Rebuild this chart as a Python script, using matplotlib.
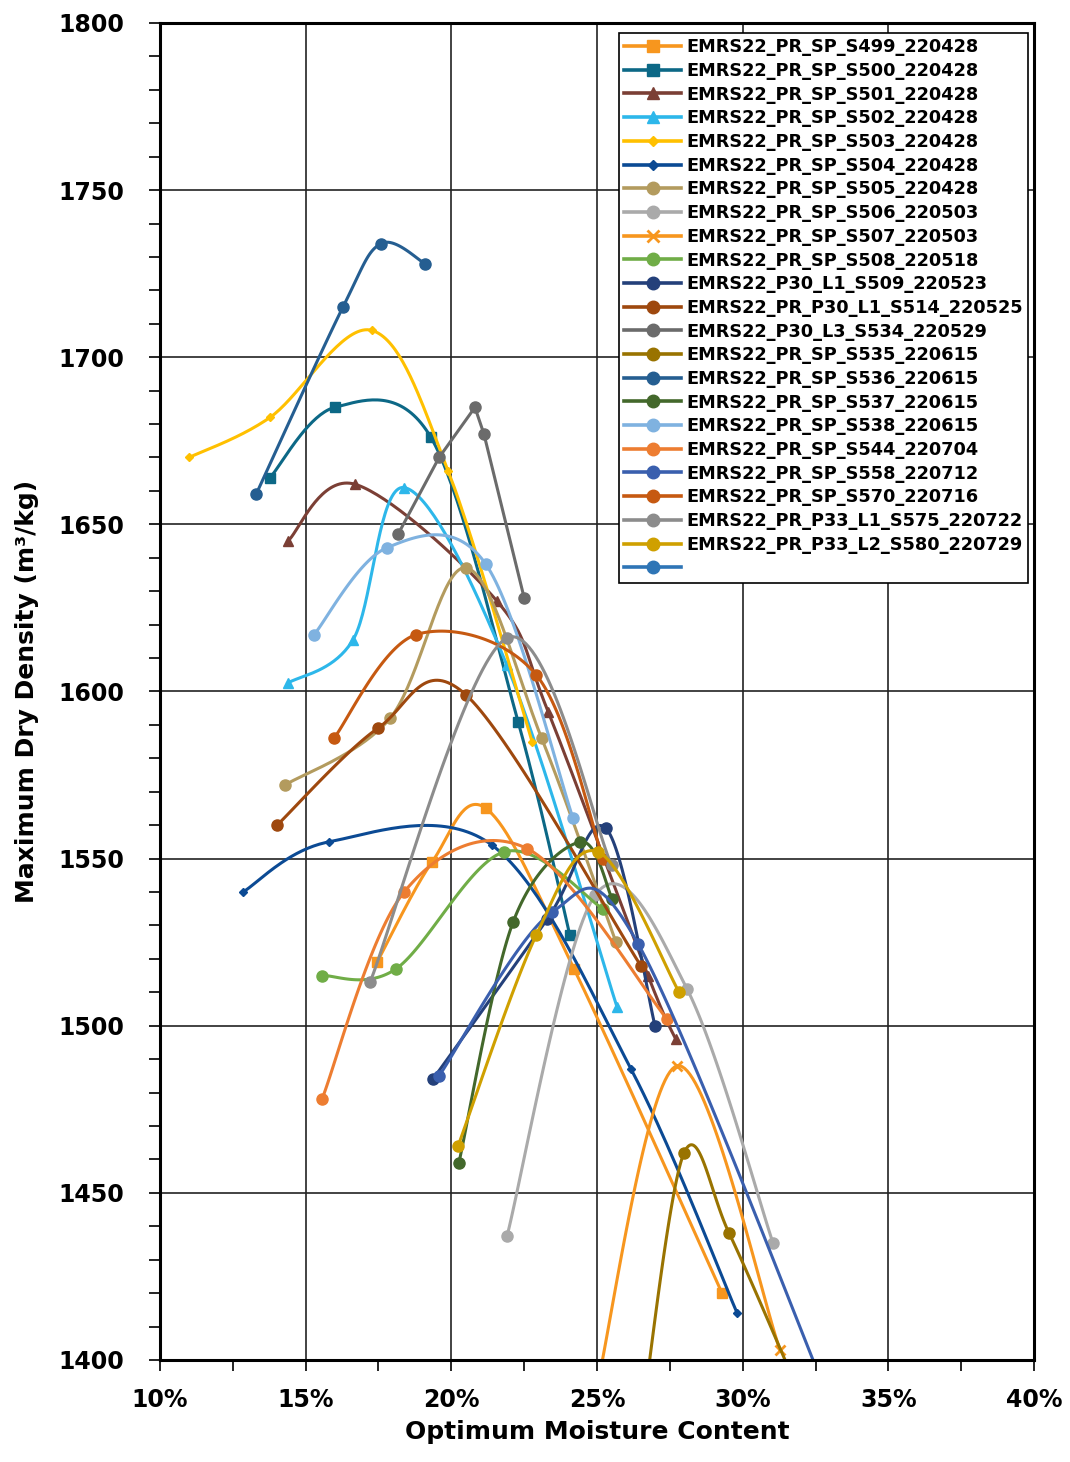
import numpy as np
import matplotlib
matplotlib.use("Agg")
import matplotlib.pyplot as plt
from matplotlib.lines import Line2D
from matplotlib.ticker import MultipleLocator, FuncFormatter

plt.rcParams['font.family'] = ['DejaVu Sans']
plt.rcParams['font.weight'] = 'bold'

# series data: moisture content (%) and max dry density
names = ['EMRS22_PR_SP_S499_220428', 'EMRS22_PR_SP_S500_220428', 'EMRS22_PR_SP_S501_220428',
         'EMRS22_PR_SP_S502_220428', 'EMRS22_PR_SP_S503_220428', 'EMRS22_PR_SP_S504_220428',
         'EMRS22_PR_SP_S505_220428', 'EMRS22_PR_SP_S506_220503', 'EMRS22_PR_SP_S507_220503',
         'EMRS22_PR_SP_S508_220518', 'EMRS22_P30_L1_S509_220523', 'EMRS22_PR_P30_L1_S514_220525',
         'EMRS22_P30_L3_S534_220529', 'EMRS22_PR_SP_S535_220615', 'EMRS22_PR_SP_S536_220615',
         'EMRS22_PR_SP_S537_220615', 'EMRS22_PR_SP_S538_220615', 'EMRS22_PR_SP_S544_220704',
         'EMRS22_PR_SP_S558_220712', 'EMRS22_PR_SP_S570_220716', 'EMRS22_PR_P33_L1_S575_220722',
         'EMRS22_PR_P33_L2_S580_220729', ' ']

s499_x = [17.45, 19.34, 21.19, 24.21, 29.29]
s499_y = [1519, 1549, 1565, 1517, 1420]
s500_x = [13.78, 16.0, 19.3, 22.29, 24.07]
s500_y = [1664, 1685, 1676, 1591, 1527]
s501_x = [14.39, 16.69, 21.57, 23.32, 26.75, 27.7]
s501_y = [1645, 1662, 1627, 1594, 1515, 1496]
s502_x = [14.39, 16.63, 18.38, 21.9, 25.69]
s502_y = [1602.5, 1615.5, 1661, 1608, 1505.5]
s503_x = [11.0, 13.78, 17.28, 19.89, 22.77]
s503_y = [1670, 1682, 1708, 1666, 1585]
s504_x = [12.85, 15.8, 21.4, 26.17, 29.81]
s504_y = [1540, 1555, 1554, 1487, 1414]
s505_x = [14.29, 17.9, 20.5, 23.1, 25.65]
s505_y = [1572, 1592, 1637, 1586, 1525]
s506_x = [21.91, 24.93, 28.09, 31.04]
s506_y = [1437, 1539, 1511, 1435]
s507_x = [24.95, 27.75, 31.28]
s507_y = [1390, 1488, 1403]
s508_x = [15.56, 18.1, 21.81, 25.2]
s508_y = [1515, 1517, 1552, 1535]
s509_x = [19.37, 23.3, 25.31, 26.99]
s509_y = [1484, 1532, 1559, 1500]
s514_x = [14.02, 17.48, 20.5, 26.5]
s514_y = [1560, 1589, 1599, 1518]
s534_x = [18.17, 19.58, 20.81, 21.12, 22.5]
s534_y = [1647, 1670, 1685, 1677, 1628]
s535_x = [26.5, 27.99, 29.53, 31.8]
s535_y = [1380, 1462, 1438, 1393]
s536_x = [13.3, 16.28, 17.59, 19.1]
s536_y = [1659, 1715, 1734, 1728]
s537_x = [20.26, 22.12, 24.42, 25.52]
s537_y = [1459, 1531, 1555, 1538]
s538_x = [15.29, 17.79, 21.19, 24.18]
s538_y = [1617, 1643, 1638, 1562]
s544_x = [15.56, 18.38, 22.6, 27.4]
s544_y = [1478, 1540, 1553, 1502]
s558_x = [19.58, 23.46, 26.41, 33.2]
s558_y = [1485, 1534, 1524.5, 1383]
s570_x = [15.97, 18.79, 22.91, 25.21]
s570_y = [1586, 1617, 1605, 1550]
s575_x = [17.21, 21.91, 25.5]
s575_y = [1513, 1616, 1548]
s580_x = [20.23, 22.91, 25.04, 27.82]
s580_y = [1464, 1527, 1552, 1510]
blank_x = []
blank_y = []

xs = [s499_x, s500_x, s501_x, s502_x, s503_x, s504_x, s505_x, s506_x, s507_x, s508_x, s509_x,
      s514_x, s534_x, s535_x, s536_x, s537_x, s538_x, s544_x, s558_x, s570_x, s575_x, s580_x, blank_x]
ys = [s499_y, s500_y, s501_y, s502_y, s503_y, s504_y, s505_y, s506_y, s507_y, s508_y, s509_y,
      s514_y, s534_y, s535_y, s536_y, s537_y, s538_y, s544_y, s558_y, s570_y, s575_y, s580_y, blank_y]

colors = ['#F7961E', '#0C6886', '#7B3F35', '#2DB7EA', '#FFC000', '#0B4A94', '#B39B5E', '#AAAAAA',
          '#F7961E', '#70AD47', '#24407A', '#9E480E', '#6B6B6B', '#997300', '#255E91', '#43682B',
          '#7FB2E0', '#ED7D31', '#3A5FAE', '#C65911', '#8C8C8C', '#CFA000', '#2E75B6']
markers = ['s', 's', '^', '^', 'D', 'D', 'o', 'o', 'x', 'o', 'o', 'o', 'o', 'o', 'o', 'o',
           'o', 'o', 'o', 'o', 'o', 'o', 'o']
msizes = [7.5, 7.5, 7, 7, 4, 4, 8, 8, 7, 8, 8, 8, 8, 8, 8, 8, 8, 8, 8, 8, 8, 8, 8]
smooth_flag = [True] * 23
smooth_flag[12] = False  # S534 is drawn with straight segments


def smooth(x, y, n=40):
    # Excel-style smoothed line: cubic bezier with 1/6 neighbour tangents
    p = np.column_stack([x, y]).astype(float)
    if len(p) < 3:
        return p[:, 0], p[:, 1]
    P = np.vstack([p[0], p, p[-1]])
    t = np.linspace(0, 1, n)[:, None]
    segs = []
    for i in range(1, len(P) - 2):
        p0, p1, p2, p3 = P[i - 1], P[i], P[i + 1], P[i + 2]
        c1 = p1 + (p2 - p0) / 6
        c2 = p2 - (p3 - p1) / 6
        segs.append((1 - t) ** 3 * p1 + 3 * (1 - t) ** 2 * t * c1 + 3 * (1 - t) * t ** 2 * c2 + t ** 3 * p2)
    s = np.vstack(segs)
    return s[:, 0], s[:, 1]


fig = plt.figure(figsize=(10.7, 14.62), dpi=100)
ax = fig.add_axes([0.1495, 0.0698, 0.8169, 0.9145])

handles = []
for i in range(len(names)):
    c = colors[i]
    mk = markers[i]
    if len(xs[i]) > 0:
        if smooth_flag[i]:
            sx, sy = smooth(xs[i], ys[i])
        else:
            sx, sy = xs[i], ys[i]
        ax.plot(sx, sy, color=c, lw=2.2, zorder=3 + i * 0.01)
        ax.plot(xs[i], ys[i], ls='none', marker=mk, color=c, ms=msizes[i],
                mew=2 if mk == 'x' else 1, zorder=3 + i * 0.01)
    handles.append(Line2D([], [], color=c, lw=2.6, marker=mk, ms=msizes[i] + 1,
                          mew=2 if mk == 'x' else 1))

ax.set_xlim(10, 40)
ax.set_ylim(1400, 1800)
ax.xaxis.set_major_locator(MultipleLocator(5))
ax.xaxis.set_minor_locator(MultipleLocator(2.5))
ax.yaxis.set_major_locator(MultipleLocator(50))
ax.yaxis.set_minor_locator(MultipleLocator(10))
ax.xaxis.set_major_formatter(FuncFormatter(lambda v, p: '%d%%' % v))
ax.grid(True, which='major', color='#222222', lw=1.2)
ax.set_axisbelow(True)
ax.tick_params(which='both', direction='out', length=8, width=1.2, labelsize=17)
ax.tick_params(axis='y', pad=18)
ax.tick_params(axis='x', pad=12)
for sp in ax.spines.values():
    sp.set_linewidth(2.2)
    sp.set_zorder(10)

ax.set_xlabel('Optimum Moisture Content', fontsize=18, fontweight='bold', labelpad=6)
ax.set_ylabel('Maximum Dry Density (m³/kg)', fontsize=18, fontweight='bold', labelpad=14)

leg = ax.legend(handles, names, loc='upper right', bbox_to_anchor=(0.9935, 0.9925),
                borderaxespad=0, fontsize=12.8, frameon=True, fancybox=False,
                edgecolor='black', framealpha=1, handlelength=3.2, handletextpad=0.3,
                labelspacing=0.32, borderpad=0.3)
leg.get_frame().set_linewidth(1.2)
leg.set_zorder(20)

fig.savefig('out.png', dpi=100)
